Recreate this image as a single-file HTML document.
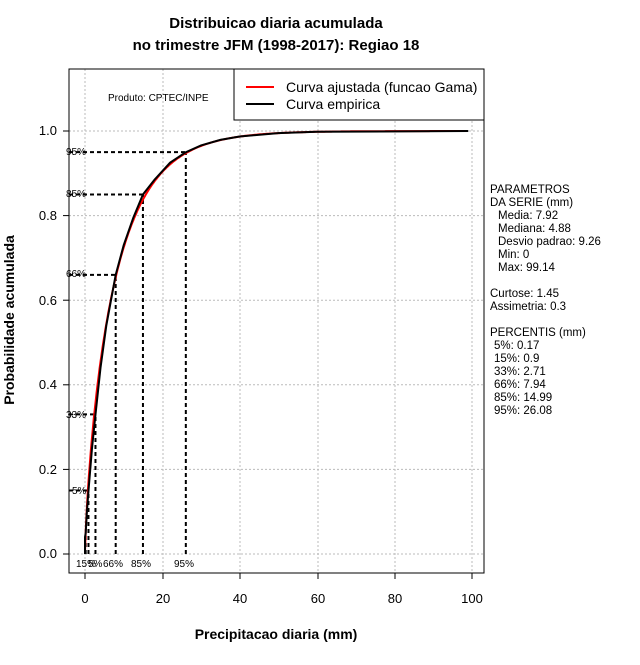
<!DOCTYPE html>
<html><head><meta charset="utf-8"><style>
body{margin:0;background:#fff;}
svg text{font-family:"Liberation Sans",sans-serif;}
</style></head><body>
<svg id="s" width="640" height="660" xmlns="http://www.w3.org/2000/svg">
<rect width="640" height="660" fill="#fff"/>
<text x="276" y="28" font-size="15" font-weight="bold" text-anchor="middle">Distribuicao diaria acumulada</text>
<text x="276" y="50" font-size="15" font-weight="bold" text-anchor="middle">no trimestre JFM (1998-2017): Regiao 18</text>
<g stroke="#bbb" stroke-dasharray="2,2" stroke-width="1">
<line x1="85" y1="69" x2="85" y2="573"/><line x1="163" y1="69" x2="163" y2="573"/><line x1="240" y1="69" x2="240" y2="573"/><line x1="318" y1="69" x2="318" y2="573"/><line x1="395" y1="69" x2="395" y2="573"/><line x1="472" y1="69" x2="472" y2="573"/>
<line x1="69" y1="131" x2="484" y2="131"/><line x1="69" y1="215.6" x2="484" y2="215.6"/><line x1="69" y1="300.2" x2="484" y2="300.2"/><line x1="69" y1="384.8" x2="484" y2="384.8"/><line x1="69" y1="469.4" x2="484" y2="469.4"/><line x1="69" y1="554" x2="484" y2="554"/>
</g>
<g id="dash" stroke="#000" stroke-width="2" stroke-dasharray="4,3" fill="none"></g>
<g id="curves"></g>
<rect x="69" y="69" width="415" height="504" fill="none" stroke="#000"/>
<g stroke="#000">
<line x1="85" y1="573" x2="85" y2="579"/><line x1="163" y1="573" x2="163" y2="579"/><line x1="240" y1="573" x2="240" y2="579"/><line x1="318" y1="573" x2="318" y2="579"/><line x1="395" y1="573" x2="395" y2="579"/><line x1="472" y1="573" x2="472" y2="579"/>
<line x1="63" y1="131" x2="69" y2="131"/><line x1="63" y1="215.6" x2="69" y2="215.6"/><line x1="63" y1="300.2" x2="69" y2="300.2"/><line x1="63" y1="384.8" x2="69" y2="384.8"/><line x1="63" y1="469.4" x2="69" y2="469.4"/><line x1="63" y1="554" x2="69" y2="554"/>
</g>
<g font-size="13" text-anchor="middle">
<text x="85" y="603">0</text><text x="163" y="603">20</text><text x="240" y="603">40</text><text x="318" y="603">60</text><text x="395" y="603">80</text><text x="472" y="603">100</text>
</g>
<g font-size="13" text-anchor="end">
<text x="57" y="135">1.0</text><text x="57" y="220">0.8</text><text x="57" y="305">0.6</text><text x="57" y="389">0.4</text><text x="57" y="474">0.2</text><text x="57" y="558">0.0</text>
</g>
<text x="276" y="639" font-size="14" font-weight="bold" text-anchor="middle">Precipitacao diaria (mm)</text>
<text transform="translate(14,320) rotate(-90)" font-size="14" font-weight="bold" text-anchor="middle">Probabilidade acumulada</text>
<text x="108" y="101" font-size="10">Produto: CPTEC/INPE</text>
<rect x="234" y="69" width="250" height="51" fill="#fff" stroke="#000"/>
<line x1="246" y1="87" x2="274" y2="87" stroke="#f00" stroke-width="2"/>
<line x1="246" y1="104" x2="274" y2="104" stroke="#000" stroke-width="2"/>
<text x="286" y="92" font-size="14">Curva ajustada (funcao Gama)</text>
<text x="286" y="109" font-size="14">Curva empirica</text>
<g font-size="10">
<text x="66" y="155">95%</text><text x="66" y="197">85%</text><text x="66" y="277">66%</text><text x="66" y="418">33%</text><text x="72" y="494">5%</text>
<text x="76" y="567">15%</text><text x="88" y="567">5%</text><text x="103" y="567">66%</text><text x="131" y="567">85%</text><text x="174" y="567">95%</text>
</g>
<g font-size="11.5">
<text x="490" y="193">PARAMETROS</text>
<text x="490" y="206">DA SERIE (mm)</text>
<text x="498" y="219">Media: 7.92</text>
<text x="498" y="232">Mediana: 4.88</text>
<text x="498" y="245">Desvio padrao: 9.26</text>
<text x="498" y="258">Min: 0</text>
<text x="498" y="271">Max: 99.14</text>
<text x="490" y="297">Curtose: 1.45</text>
<text x="490" y="310">Assimetria: 0.3</text>
<text x="490" y="336">PERCENTIS (mm)</text>
<text x="494" y="349">5%: 0.17</text>
<text x="494" y="362">15%: 0.9</text>
<text x="494" y="375">33%: 2.71</text>
<text x="494" y="388">66%: 7.94</text>
<text x="494" y="401">85%: 14.99</text>
<text x="494" y="414">95%: 26.08</text>
</g>
</svg>
<script>
function X(v){return 85+v*3.866;}function Y(p){return 554-p*423;}
function lg(z){var g=7,c=[0.99999999999980993,676.5203681218851,-1259.1392167224028,771.32342877765313,-176.61502916214059,12.507343278686905,-0.13857109526572012,9.9843695780195716e-6,1.5056327351493116e-7];z-=1;var x=c[0];for(var i=1;i<9;i++)x+=c[i]/(z+i);var t=z+g+0.5;return 0.5*Math.log(2*Math.PI)+(z+0.5)*Math.log(t)-t+Math.log(x);}
function P(a,x){if(x<=0)return 0;var s=1/a,t=1/a;for(var n=1;n<400;n++){t*=x/(a+n);s+=t;if(t<1e-12*s)break;}return Math.min(1,s*Math.exp(-x+a*Math.log(x)-lg(a)));}
var k=Math.pow(7.92/9.26,2),th=9.26*9.26/7.92;
var d="";for(var v=0.01;v<=99.2;v+=0.25){d+=(d?"L":"M")+X(v).toFixed(1)+","+Y(P(k,v/th)).toFixed(1);}
var e=[[0,0],[0,0.04],[0.17,0.05],[0.5,0.1],[0.9,0.15],[1.8,0.25],[2.71,0.33],[4,0.44],[5.5,0.54],[7.94,0.66],[10,0.73],[12.5,0.795],[14.99,0.85],[18,0.885],[22,0.925],[26.08,0.95],[30,0.966],[35,0.979],[40,0.987],[50,0.995],[60,0.998],[99.14,1]];
var d2="";e.forEach(function(p){d2+=(d2?"L":"M")+X(p[0]).toFixed(1)+","+Y(p[1]).toFixed(1);});
document.getElementById("curves").innerHTML='<path d="'+d+'" stroke="#f00" stroke-width="2" fill="none"/><path d="'+d2+'" stroke="#000" stroke-width="2" fill="none"/>';
var pc=[[0.9,0.15],[2.71,0.33],[7.94,0.66],[14.99,0.85],[26.08,0.95]],h="";
pc.forEach(function(p){h+='<line x1="69" y1="'+Y(p[1])+'" x2="'+X(p[0])+'" y2="'+Y(p[1])+'"/><line x1="'+X(p[0])+'" y1="554" x2="'+X(p[0])+'" y2="'+Y(p[1])+'"/>';});
h+='<line x1="'+X(0.17)+'" y1="554" x2="'+X(0.17)+'" y2="'+Y(0.05)+'"/>';
document.getElementById("dash").innerHTML=h;
</script>
</body></html>
